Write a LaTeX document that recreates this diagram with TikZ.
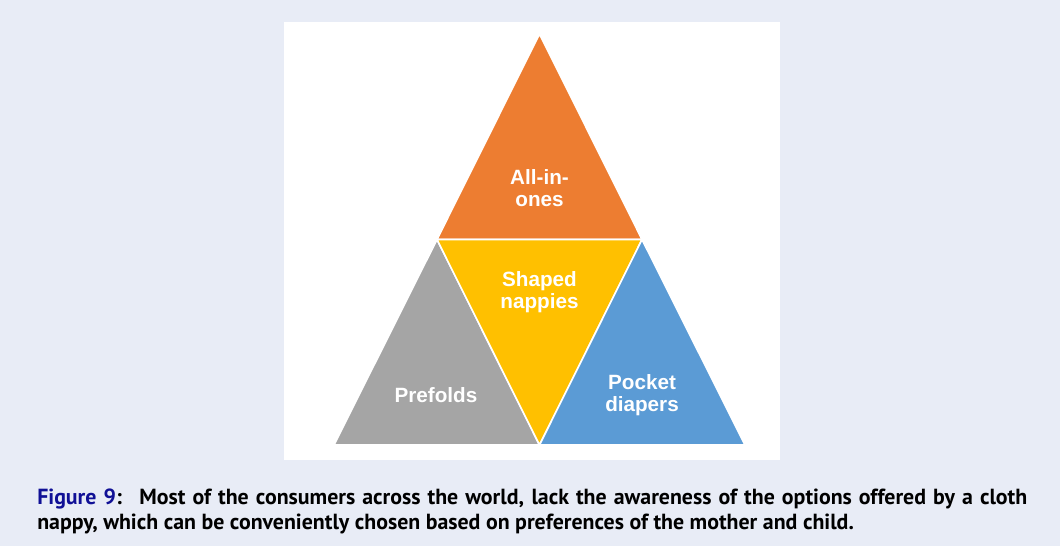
\documentclass[tikz,border=0pt]{standalone}
\usepackage{fontspec}
\setmainfont{Liberation Sans}
\newfontfamily\capfont{PT Sans}
\usetikzlibrary{positioning}
\definecolor{pagebg}{RGB}{232,236,246}
\definecolor{allorange}{RGB}{237,125,49}
\definecolor{prefgrey}{RGB}{165,165,165}
\definecolor{shapedyellow}{RGB}{255,192,0}
\definecolor{pocketblue}{RGB}{91,155,213}
\definecolor{figblue}{RGB}{16,16,150}

\begin{document}
\begin{tikzpicture}[x=0.75pt,y=0.75pt,yscale=-1,xscale=1,
  tri/.style={draw=white, line width=1.2},
  tri label/.style={text=white, align=center, inner sep=0.75pt, font=\fontsize{15.5}{16.8}\selectfont\bfseries}]
\useasboundingbox (0,0) rectangle (1060,546);
\fill [pagebg] (0,0) rectangle (1060,546);
\fill [white] (284,22) rectangle (780,460);

%Shape: Triangle
\draw [tri, fill=allorange] (539.5,34) -- (642,239.5) -- (437,239.5) -- cycle ;
%Shape: Triangle
\draw [tri, fill=prefgrey] (437,239.5) -- (539.5,445) -- (334,445) -- cycle ;
%Shape: Triangle
\draw [tri, fill=shapedyellow] (437,239.5) -- (642,239.5) -- (539.5,445) -- cycle ;
%Shape: Triangle
\draw [tri, fill=pocketblue] (642,239.5) -- (745,445) -- (539.5,445) -- cycle ;

% Text Node
\draw (539.5,188) node [tri label] (allinones) {All-in-\\ones};
% Text Node
\draw (539.5,292) node [tri label] (shaped) {Shaped\\nappies};
% Text Node
\draw (436,395) node [tri label] (prefolds) {Prefolds};
% Text Node
\draw (642,395) node [tri label] (pocket) {Pocket\\diapers};

% Caption
\draw (37,489) node [anchor=north west, inner sep=0pt, text width=742.5pt, align=justify, font=\capfont\fontsize{16.4}{18.75}\selectfont\bfseries] (caption) {{\color{figblue}Figure 9}:~ Most of the consumers across the world, lack the awareness of the options offered by a cloth\linebreak nappy, which can be conveniently chosen based on preferences of the mother and child.};

\end{tikzpicture}
\end{document}
